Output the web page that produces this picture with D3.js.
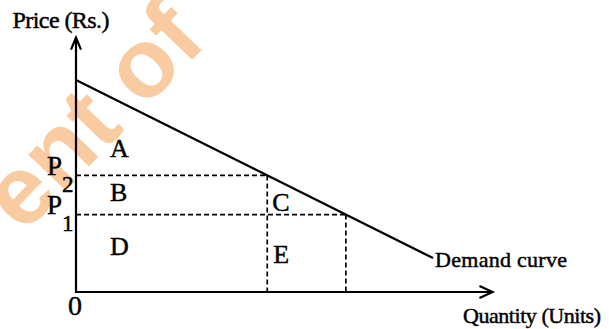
<!DOCTYPE html>
<html>
<head>
<meta charset="utf-8">
<script src="https://cdn.jsdelivr.net/npm/d3@7"></script>
<style>
  body { margin: 0; background: #fff; }
  svg { display: block; }
  text.lbl { font-family: "Liberation Serif", "Times New Roman", serif; fill: #000; stroke: #000; stroke-width: 0.45px; }
</style>
</head>
<body>
<svg width="609" height="329"></svg>
<script>
// demand curve end points (quantity, price)
var demand = [{ q: 0, p: 10 }, { q: 8.4, p: 1.6 }];

// the two price / quantity points on the curve
var prices = [
  { name: "P", sub: "2", q: 4.5, p: 5.5 },
  { name: "P", sub: "1", q: 6.35, p: 3.65 }
];

// area labels
var regions = [
  { label: "A", q: 0.8, p: 6.37 },
  { label: "B", q: 0.8, p: 4.29 },
  { label: "D", q: 0.8, p: 1.75 },
  { label: "C", q: 4.62, p: 3.82 },
  { label: "E", q: 4.64, p: 1.37 }
];

var axisMax = { q: 9.8, p: 12 };

var svg = d3.select("svg");

var x = d3.scaleLinear().domain([0, 10]).range([76, 501]),
    y = d3.scaleLinear().domain([0, 10]).range([292, 80]);

// watermark
svg.append("text")
  .attr("transform", "translate(24,198) rotate(-46)")
  .attr("x", -27)
  .attr("y", 25)
  .style("font-family", "'Liberation Sans', Arial, sans-serif")
  .style("font-weight", "bold")
  .style("font-size", "98px")
  .style("fill", "#f9cba1")
  .text("ent of");

var line = d3.line()
  .x(function (d) { return x(d.q); })
  .y(function (d) { return y(d.p); });

// dashed guides
var g = svg.append("g")
  .attr("stroke", "#000")
  .attr("stroke-width", 1.7)
  .attr("stroke-dasharray", "5,3")
  .attr("fill", "none");

g.selectAll(".hguide")
  .data(prices)
  .enter().append("path")
  .attr("d", function (d) { return line([{ q: 0, p: d.p }, { q: d.q, p: d.p }]); });

g.selectAll(".vguide")
  .data(prices)
  .enter().append("path")
  .attr("d", function (d) { return line([{ q: d.q, p: d.p }, { q: d.q, p: 0 }]); });

// axes
var axes = svg.append("g")
  .attr("stroke", "#000")
  .attr("stroke-width", 2.2)
  .attr("fill", "none");

axes.append("path")
  .attr("d", line([{ q: 0, p: axisMax.p }, { q: 0, p: 0 }, { q: axisMax.q, p: 0 }]));

// arrow heads
var tipY = [x(0), y(axisMax.p)], tipX = [x(axisMax.q), y(0)];
axes.append("path")
  .attr("d", "M" + (tipY[0] - 5) + "," + (tipY[1] + 12) + "L" + tipY[0] + "," + tipY[1] + "L" + (tipY[0] + 5) + "," + (tipY[1] + 12));
axes.append("path")
  .attr("d", "M" + (tipX[0] - 13) + "," + (tipX[1] - 6) + "L" + tipX[0] + "," + tipX[1] + "L" + (tipX[0] - 13) + "," + (tipX[1] + 6));

// demand curve
svg.append("path")
  .datum(demand)
  .attr("d", line)
  .attr("stroke", "#000")
  .attr("stroke-width", 2.3)
  .attr("fill", "none");

// labels
svg.selectAll(".region")
  .data(regions)
  .enter().append("text")
  .attr("class", "lbl")
  .attr("x", function (d) { return x(d.q); })
  .attr("y", function (d) { return y(d.p); })
  .style("font-size", "26px")
  .text(function (d) { return d.label; });

var pl = svg.selectAll(".plabel")
  .data(prices)
  .enter().append("text")
  .attr("class", "lbl")
  .attr("x", 47)
  .attr("y", function (d) { return y(d.p) - 0.5; })
  .style("font-size", "27px");
pl.append("tspan").text(function (d) { return d.name; });
pl.append("tspan").attr("dx", 0).attr("dy", 17).style("font-size", "23px").text(function (d) { return d.sub; });

svg.append("text")
  .attr("class", "lbl")
  .attr("x", x(0) - 1)
  .attr("y", 315)
  .attr("text-anchor", "middle")
  .style("font-size", "28px")
  .text("0");

svg.append("text")
  .attr("class", "lbl")
  .attr("x", 12.5)
  .attr("y", 27.5)
  .style("font-size", "24px")
  .attr("textLength", 97)
  .text("Price (Rs.)");

var end = demand[demand.length - 1];
svg.append("text")
  .attr("class", "lbl")
  .attr("x", x(end.q) + 2)
  .attr("y", y(end.p) + 9)
  .style("font-size", "22px")
  .attr("textLength", 132)
  .text("Demand curve");

svg.append("text")
  .attr("class", "lbl")
  .attr("x", 463)
  .attr("y", 323)
  .style("font-size", "22px")
  .attr("textLength", 138)
  .text("Quantity (Units)");
</script>
</body>
</html>
